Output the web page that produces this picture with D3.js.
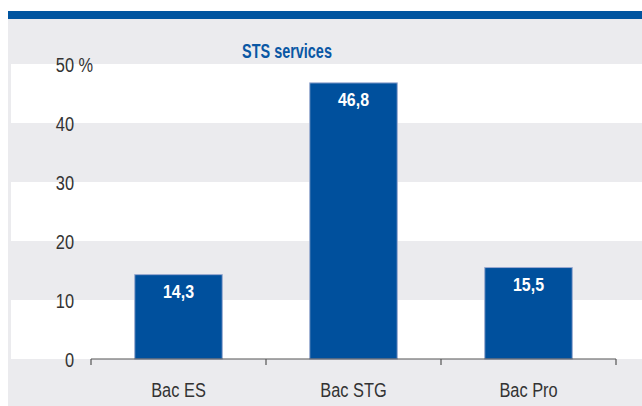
<!DOCTYPE html>
<html>
<head>
<meta charset="utf-8">
<script src="https://cdn.jsdelivr.net/npm/d3@7"></script>
<style>
  body { margin: 0; background: #fff; }
  svg text { font-family: "Liberation Sans", Arial, sans-serif; }
</style>
</head>
<body>
<div id="chart"></div>
<script>
// data
const categories = ["Bac ES", "Bac STG", "Bac Pro"];
const values = [14.3, 46.8, 15.5];
const yTicks = [0, 10, 20, 30, 40, 50];
const title = "STS services";

const W = 642, H = 406;
const margin = {top: 64, left: 91, right: 26, bottom: 47};
const width = W - margin.left - margin.right,
      height = H - margin.top - margin.bottom;

// condensed look: squeeze text horizontally
const sq = (x, y, s) => `translate(${x},${y}) scale(${s},1)`;

const svg = d3.select("#chart").append("svg")
  .attr("width", W).attr("height", H);

// top blue band and grey panel
svg.append("rect").attr("x", 8).attr("y", 11).attr("width", W - 8).attr("height", 8).attr("fill", "#0055a0");
svg.append("rect").attr("x", 8).attr("y", 19).attr("width", W - 8).attr("height", H - 19).attr("fill", "#ebebee");

const g = svg.append("g").attr("transform", `translate(${margin.left},${margin.top})`);

const x = d3.scaleBand().domain(categories).range([0, width]).paddingInner(0.5).paddingOuter(0.25);
const y = d3.scaleLinear().domain([0, 50]).range([height, 0]);

// white alternating bands
const bands = [[40, 50], [20, 30], [0, 10]];
g.selectAll(".band").data(bands).join("rect")
  .attr("x", 11 - margin.left).attr("width", W - 11)
  .attr("y", d => y(d[1])).attr("height", d => y(d[0]) - y(d[1]))
  .attr("fill", "#fff");

// y tick labels
g.selectAll(".ylab").data(yTicks).join("text")
  .attr("transform", d => sq(74 - margin.left, y(d) + 8, 0.78))
  .attr("font-size", 21).attr("fill", "#333")
  .each(function(d) {
    const t = d3.select(this);
    t.append("tspan").text(d);
    if (d === 50) t.append("tspan").text(" %");
  })
  .attr("dx", function() {
    return -d3.select(this).select("tspan").node().getComputedTextLength();
  });

// bars
g.selectAll(".bar").data(values).join("rect")
  .attr("x", (d, i) => x(categories[i]))
  .attr("y", d => y(d))
  .attr("width", x.bandwidth())
  .attr("height", d => height - y(d))
  .attr("fill", "#00509d")
  .attr("stroke", "#9aaad0").attr("stroke-width", 1);

// value labels
g.selectAll(".val").data(values).join("text")
  .attr("transform", (d, i) => sq(x(categories[i]) + x.bandwidth() / 2, y(d) + 23, 0.84))
  .attr("text-anchor", "middle")
  .attr("font-size", 19).attr("font-weight", "bold").attr("fill", "#fff")
  .text(d => d.toString().replace(".", ","));

// x axis
const xAxis = g.append("g").attr("transform", `translate(0,${height})`);
xAxis.append("line").attr("x1", 0).attr("x2", width).attr("stroke", "#555").attr("stroke-width", 1.2);
const step = x.step();
xAxis.selectAll(".tk").data(d3.range(categories.length + 1)).join("line")
  .attr("x1", i => i * step).attr("x2", i => i * step)
  .attr("y1", 0).attr("y2", 6)
  .attr("stroke", "#555").attr("stroke-width", 1.2);
xAxis.selectAll(".cat").data(categories).join("text")
  .attr("transform", d => sq(x(d) + x.bandwidth() / 2, 38, 0.78))
  .attr("text-anchor", "middle")
  .attr("font-size", 21).attr("fill", "#333")
  .text(d => d);

// title
svg.append("text")
  .attr("transform", sq(287, 58, 0.74))
  .attr("text-anchor", "middle")
  .attr("font-size", 19.5).attr("font-weight", "bold").attr("fill", "#0a57a4")
  .text(title);
</script>
</body>
</html>
